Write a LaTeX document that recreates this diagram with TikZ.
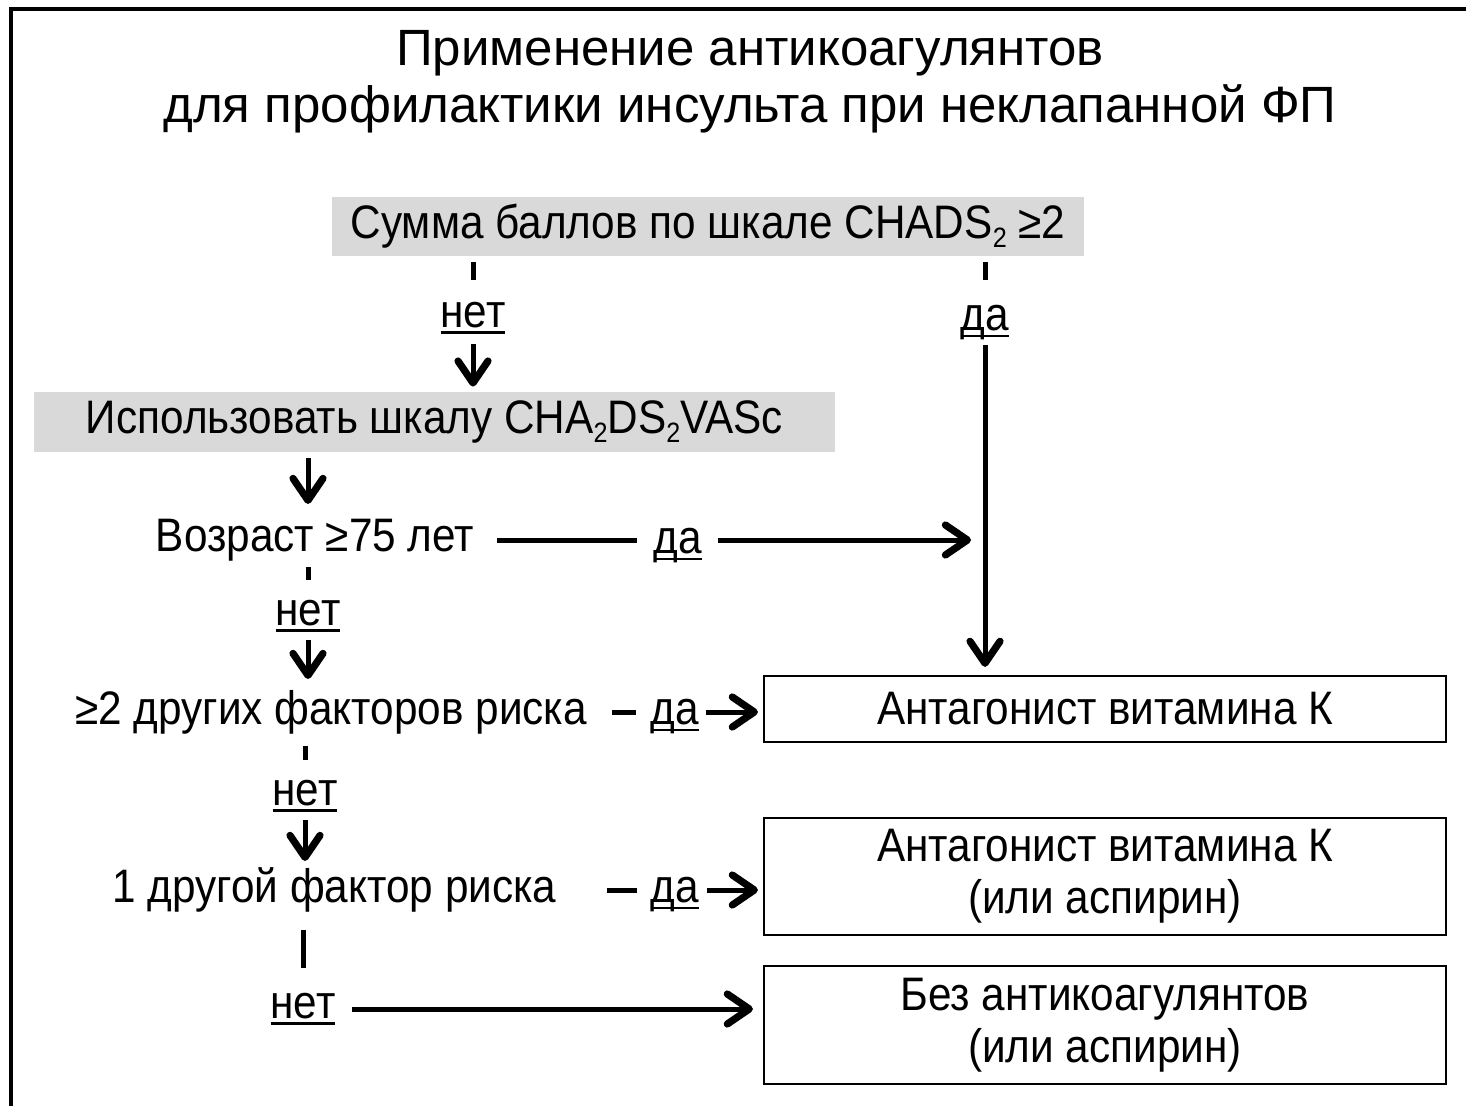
\documentclass[tikz,border=0pt]{standalone}
\usepackage{fontspec}
\setmainfont{Liberation Sans}
\newfontfamily\bodyfont[FakeStretch=0.9]{Liberation Sans}
\usetikzlibrary{arrows.meta,calc}
\definecolor{boxgray}{HTML}{D9D9D9}
\newcommand\ulab[1]{\setbox0\hbox{#1}\rlap{\rule[-3.2pt]{\wd0}{1.4pt}}\box0}
\newcommand\sbs[1]{\raisebox{-0.35ex}{\fontsize{14}{14}\selectfont #1}}
\begin{document}
\begin{tikzpicture}[x=0.5pt,y=-0.5pt,
  ln/.style={line width=2.5pt},
  arr/.style={line width=2.5pt,-{Straight Barb[length=11pt,width=15pt,line width=3.6pt,line cap=round,line join=round]}},
  txt/.style={font=\bodyfont\fontsize{23.5}{26}\selectfont, inner sep=0pt, align=center},
  gbox/.style={txt, fill=boxgray},
  wbox/.style={txt, draw, line width=1.1pt, minimum width=341pt},
  lbl/.style={txt}
]
\useasboundingbox (0,0) rectangle (1466,1106);
\draw[line width=2pt] (11,1120) -- (11,9) -- (1480,9);

\node[font=\fontsize{25.5}{28.5}\selectfont, align=center] (title) at (750,82)
  {Применение антикоагулянтов\\для профилактики инсульта при неклапанной ФП};

\node[gbox, minimum width=376pt, minimum height=29.5pt] (box1) at (708,226.5)
  {Сумма баллов по шкале CHADS\sbs{2} ≥2};
\node[gbox, minimum width=400.5pt, minimum height=30pt] (box2) at (434.5,422)
  {Использовать шкалу CHA\sbs{2}DS\sbs{2}VASc};

\node[lbl] (net1) at (473,318) {\ulab{нет}};
\node[lbl] (da1) at (985,323) {\ulab{да}};

\node[lbl] (age) at (315,540) {Возраст ≥75 лет};
\node[lbl] (da2) at (678,546) {\ulab{да}};
\node[lbl] (net2) at (308,616) {\ulab{нет}};

\node[lbl] (f2) at (331,712) {≥2 других факторов риска};
\node[lbl] (da3) at (675,717) {\ulab{да}};
\node[lbl] (net3) at (305,796) {\ulab{нет}};

\node[lbl] (f1) at (334.5,890) {1 другой фактор риска};
\node[lbl] (da4) at (675,895) {\ulab{да}};
\node[lbl] (net4) at (303,1009) {\ulab{нет}};

\node[wbox, minimum height=33pt] (box3) at (1105,709) {Антагонист витамина К};
\node[wbox, minimum height=58.5pt] (box4) at (1105,876.5) {Антагонист витамина К\\(или аспирин)};
\node[wbox, minimum height=59pt] (box5) at (1105,1025) {Без антикоагулянтов\\(или аспирин)};

\coordinate (sp1) at (308,0);

% CHADS2 branches
\draw[ln, shorten <=3pt, shorten >=19pt] (box1.south -| net1.center) -- (net1.center);
\draw[arr, shorten <=13pt, shorten >=2.5pt] (net1.center) -- (net1.center |- box2.north);
\draw[ln, shorten <=3pt, shorten >=21.5pt] (box1.south -| da1.center) -- (da1.center);
\draw[arr, shorten <=11pt, shorten >=4pt] (da1.center) -- (da1.center |- box3.north);

% spine
\draw[arr, shorten <=3pt, shorten >=18pt] (box2.south -| sp1) -- (age.center -| sp1);
\draw[ln, shorten <=13.5pt, shorten >=18pt] (age.center -| sp1) -- (net2.center);
\draw[arr, shorten <=12pt, shorten >=16.5pt] (net2.center) -- (f2.center -| net2.center);
\draw[ln, shorten <=17pt, shorten >=18pt] (f2.center -| net3.center) -- (net3.center);
\draw[arr, shorten <=12pt, shorten >=14.5pt] (net3.center) -- (f1.center -| net3.center);
\draw[ln, shorten <=20pt, shorten >=20.5pt] (f1.center -| net4.center) -- (net4.center);

% horizontal yes branches
\draw[ln, shorten <=91pt, shorten >=20.5pt] (age.center) -- (age.center -| da2.center);
\draw[arr, shorten <=20pt, shorten >=7pt] (age.center -| da2.center) -- (age.center -| da1.center);
\draw[ln, shorten <=140.5pt, shorten >=19.5pt] (f2.center) -- (f2.center -| da3.center);
\draw[arr, shorten <=15.5pt, shorten >=2.5pt] (f2.center -| da3.center) -- (f2.center -| box3.west);
\draw[ln, shorten <=136pt, shorten >=19pt] (f1.center) -- (f1.center -| da4.center);
\draw[arr, shorten <=16pt, shorten >=2.5pt] (f1.center -| da4.center) -- (f1.center -| box4.west);
\draw[arr, shorten <=24.5pt, shorten >=5pt] (net4.center) -- (net4.center -| box5.west);
\end{tikzpicture}
\end{document}
